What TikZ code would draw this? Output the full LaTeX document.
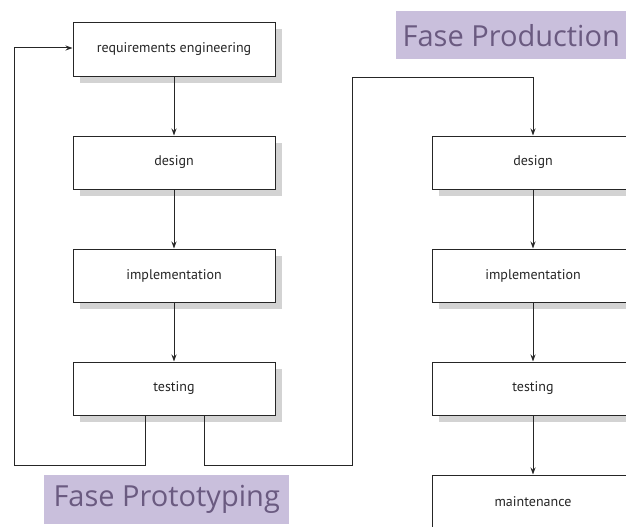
\documentclass[tikz,border=0pt]{standalone}
\usepackage{fontspec}
\setmainfont{PT Sans}
\newfontfamily\labelfont{Open Sans}
\usetikzlibrary{arrows.meta}
\definecolor{labelbg}{HTML}{C9BFDC}
\definecolor{labeltx}{HTML}{6A5A80}
\definecolor{shadowc}{HTML}{D3D3D3}
\begin{document}
\begin{tikzpicture}[x=1pt,y=-1pt,
  stagebox/.style={draw=black!85, line width=1pt, fill=white, minimum width=202pt, minimum height=53pt, inner sep=0pt, font=\fontsize{14}{16}\selectfont, text=black!85},
  phaselabel/.style={fill=labelbg, text=labeltx, inner sep=0pt, font=\labelfont\fontsize{29}{32}\selectfont},
  conn/.style={draw=black!85, line width=1pt},
  arr/.style={conn, -{Stealth[length=7pt,width=5pt]}}]
\useasboundingbox (0,0) rectangle (626,527);
% shadows
\foreach \yy in {49.5,162.5,275.5,388.5}{
  \fill[shadowc] (80,\yy-20) rectangle (282,\yy+33);
}
\foreach \yy in {162.5,275.5,388.5,501.5}{
  \fill[shadowc] (439,\yy-20) rectangle (641,\yy+33);
}
% left column
\node[stagebox] (req) at (174,49.5) {requirements engineering};
\node[stagebox] (d1) at (174,162.5) {design};
\node[stagebox] (i1) at (174,275.5) {implementation};
\node[stagebox] (t1) at (174,388.5) {testing};
% right column
\node[stagebox] (d2) at (533,162.5) {design};
\node[stagebox] (i2) at (533,275.5) {implementation};
\node[stagebox] (t2) at (533,388.5) {testing};
\node[stagebox] (m2) at (533,501.5) {maintenance};
% arrows
\draw[arr] (req) -- (d1);
\draw[arr] (d1) -- (i1);
\draw[arr] (i1) -- (t1);
\draw[arr] (d2) -- (i2);
\draw[arr] (i2) -- (t2);
\draw[arr] (t2) -- (m2);
% loops
\coordinate (tl) at ([xshift=-29pt]t1.south);
\coordinate (tr) at ([xshift=30pt]t1.south);
\draw[arr] (tl) -- (145,465) -- (14,465) -- (14,48) -- (req.west |- 0,48);
\draw[arr] (tr) -- (204,465) -- (352,465) -- (352,77) -- (533,77) -- (d2.north);
% phase labels
\node[phaselabel, minimum width=230pt, minimum height=48pt, anchor=north west] (lp) at (396,11) {Fase Production};
\node[phaselabel, minimum width=245pt, minimum height=49pt, anchor=north west] (lt) at (44,475) {Fase Prototyping};
\end{tikzpicture}
\end{document}
